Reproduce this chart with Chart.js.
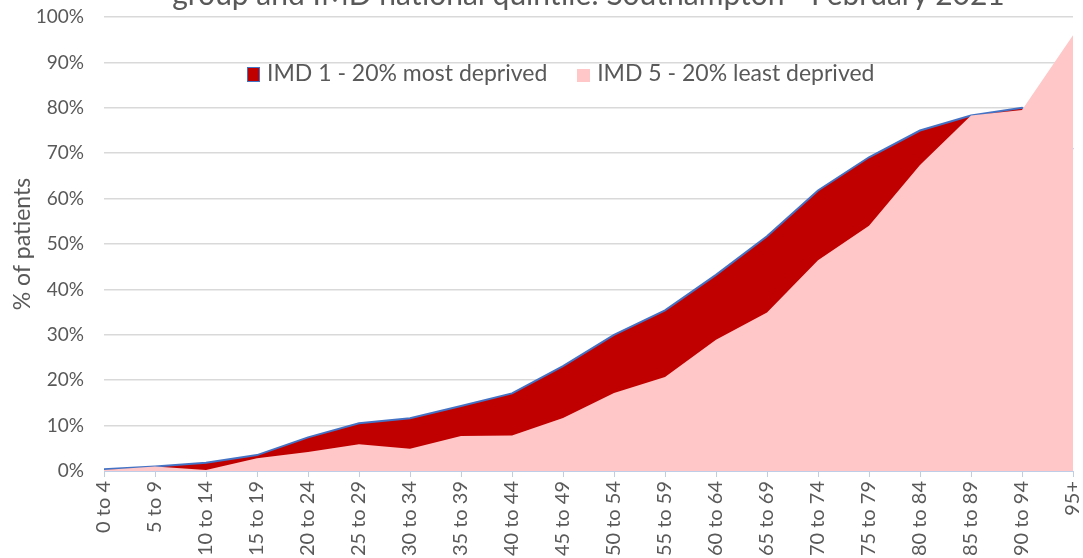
<!DOCTYPE html>
<html>
<head>
<meta charset="utf-8">
<script src="https://cdn.jsdelivr.net/npm/chart.js@4"></script>
<style>
    body { margin: 0; background: #fff; }
    #wrap { position: relative; width: 1083px; height: 558px; overflow: hidden; font-family: Lato, sans-serif; color: #595959; }
    #title { position: absolute; left: 104px; width: 969px; top: -25px; text-align: center; font-size: 30px; white-space: nowrap; }
    #legend { position: absolute; left: 247px; top: 58px; font-size: 23px; white-space: nowrap; }
    #legend span.item { display: inline-block; margin-right: 24px; }
    #legend span.box { display: inline-block; width: 11px; height: 13px; margin-right: 7px; vertical-align: -1px; }
</style>
</head>
<body>
<div id="wrap">
    <canvas id="chart" width="1083" height="558"></canvas>
    <div id="title">group and IMD national quintile: Southampton - February 2021</div>
    <div id="legend">
        <span class="item"><span class="box" style="background:#C00000;border:1px solid #4472C4;"></span>IMD 1 - 20% most deprived</span>
        <span class="item"><span class="box" style="background:#FFC7C7;width:13px;"></span>IMD 5 - 20% least deprived</span>
    </div>
</div>
<script>
const ageBands = ['0 to 4', '5 to 9', '10 to 14', '15 to 19', '20 to 24', '25 to 29', '30 to 34',
    '35 to 39', '40 to 44', '45 to 49', '50 to 54', '55 to 59', '60 to 64', '65 to 69',
    '70 to 74', '75 to 79', '80 to 84', '85 to 89', '90 to 94', '95+'];

// % of patients
const imd1 = [0.4, 1.0, 1.8, 3.5, 7.4, 10.5, 11.6, 14.3, 17.1, 23.1, 30.0, 35.4, 43.2, 51.7,
    61.8, 69.1, 75.0, 78.3, 80.0, 70.8];
const imd5 = [0.2, 1.0, 0.2, 2.8, 4.2, 5.9, 4.9, 7.7, 7.8, 11.7, 17.2, 20.7, 28.9, 34.9,
    46.4, 54.0, 67.4, 78.3, 79.5, 96.0];

const yTicks = [0, 10, 20, 30, 40, 50, 60, 70, 80, 90, 100];

const textColor = '#595959';
const ctx = document.getElementById('chart').getContext('2d');

new Chart(ctx, {
    type: 'line',
    data: {
        labels: ageBands,
        datasets: [
            {
                label: 'IMD 1 - 20% most deprived',
                data: imd1,
                borderColor: '#4472C4',
                borderWidth: 2,
                backgroundColor: '#C00000',
                fill: 'origin',
                pointRadius: 0,
                tension: 0,
                order: 2
            },
            {
                label: 'IMD 5 - 20% least deprived',
                data: imd5,
                borderWidth: 0,
                borderColor: 'rgba(0,0,0,0)',
                backgroundColor: '#FFC7C7',
                fill: 'origin',
                pointRadius: 0,
                tension: 0,
                order: 1
            }
        ]
    },
    options: {
        responsive: false,
        animation: false,
        layout: { padding: { top: 17, right: 10, left: 0, bottom: 0 } },
        plugins: {
            legend: { display: false },
            tooltip: { enabled: false }
        },
        scales: {
            x: {
                offset: false,
                grid: {
                    drawOnChartArea: false,
                    drawTicks: true,
                    tickLength: 6,
                    color: '#BFCDE6'
                },
                border: { color: '#BFCDE6', width: 1 },
                ticks: {
                    minRotation: 90,
                    maxRotation: 90,
                    autoSkip: false,
                    padding: 4,
                    color: textColor,
                    font: { family: 'Lato', size: 20 }
                },
                afterFit: s => {
                    s.height = 87;
                    // rotated labels would otherwise eat into the right edge
                    s.paddingLeft = 0;
                    s.paddingRight = 0;
                }
            },
            y: {
                min: 0,
                max: 100,
                afterBuildTicks: s => { s.ticks = yTicks.map(v => ({ value: v })); },
                grid: { color: '#D9D9D9', lineWidth: 1.5, drawTicks: false },
                border: { display: false },
                ticks: {
                    padding: 20,
                    color: textColor,
                    font: { family: 'Lato', size: 19 },
                    callback: v => v + '%'
                },
                title: {
                    display: true,
                    text: '% of patients',
                    color: textColor,
                    font: { family: 'Lato', size: 23 },
                    padding: { top: 9, bottom: 0 }
                },
                afterFit: s => {
                    s.width = 104;
                    s.paddingTop = 0;
                    s.paddingBottom = 0;
                }
            }
        }
    }
});
</script>
</body>
</html>
